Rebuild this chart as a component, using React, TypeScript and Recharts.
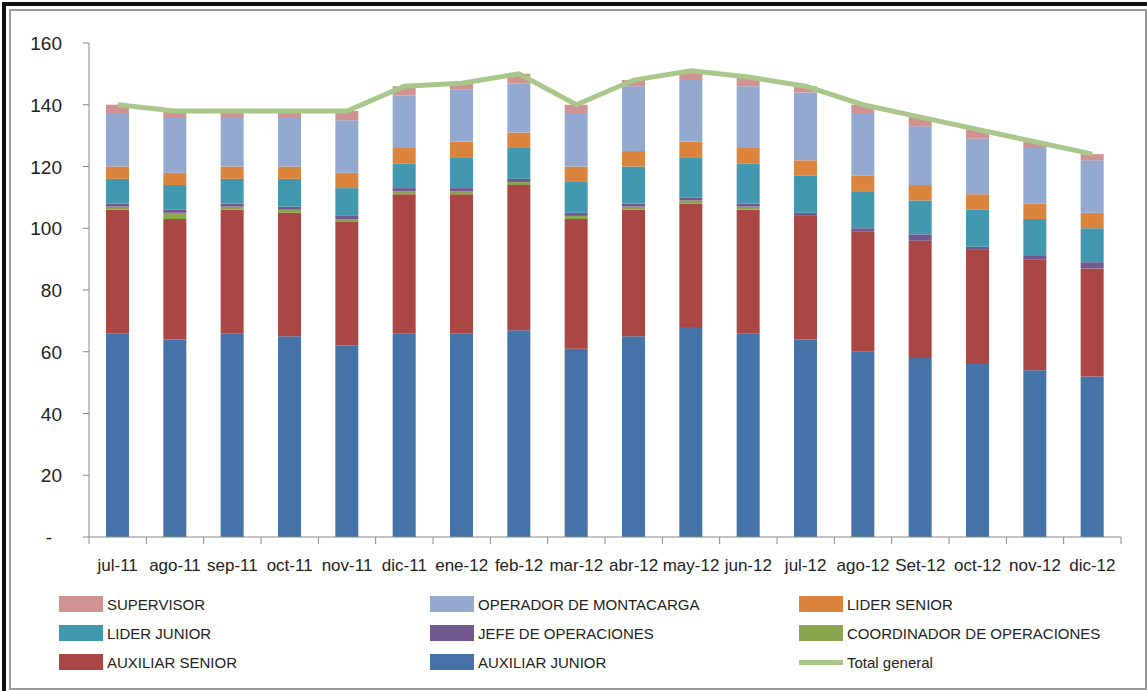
import React from "react";
import { ComposedChart, Bar, Line, XAxis, YAxis } from "recharts";

const months = [
  "jul-11", "ago-11", "sep-11", "oct-11", "nov-11", "dic-11", "ene-12", "feb-12", "mar-12",
  "abr-12", "may-12", "jun-12", "jul-12", "ago-12", "Set-12", "oct-12", "nov-12", "dic-12",
];

const auxiliarJunior = [66, 64, 66, 65, 62, 66, 66, 67, 61, 65, 68, 66, 64, 60, 58, 56, 54, 52];
const auxiliarSenior = [40, 39, 40, 40, 40, 45, 45, 47, 42, 41, 40, 40, 40, 39, 38, 37, 36, 35];
const coordinador = [1, 2, 1, 1, 1, 1, 1, 1, 1, 1, 1, 1, 0, 0, 0, 0, 0, 0];
const jefe = [1, 1, 1, 1, 1, 1, 1, 1, 1, 1, 1, 1, 1, 1, 2, 1, 1, 2];
const liderJunior = [8, 8, 8, 9, 9, 8, 10, 10, 10, 12, 13, 13, 12, 12, 11, 12, 12, 11];
const liderSenior = [4, 4, 4, 4, 5, 5, 5, 5, 5, 5, 5, 5, 5, 5, 5, 5, 5, 5];
const operador = [17, 18, 16, 16, 17, 17, 17, 16, 17, 21, 20, 20, 22, 20, 19, 18, 18, 17];
const supervisor = [3, 2, 2, 2, 3, 3, 2, 3, 3, 2, 3, 3, 2, 3, 3, 3, 2, 2];
const totalGeneral = [140, 138, 138, 138, 138, 146, 147, 150, 140, 148, 151, 149, 146, 140, 136, 132, 128, 124];

const yTicks = [0, 20, 40, 60, 80, 100, 120, 140, 160];

// stacking order, bottom first
const series = [
  { key: "aj", name: "AUXILIAR JUNIOR", color: "#4572A7", values: auxiliarJunior },
  { key: "as", name: "AUXILIAR SENIOR", color: "#AA4643", values: auxiliarSenior },
  { key: "co", name: "COORDINADOR DE OPERACIONES", color: "#89A54E", values: coordinador },
  { key: "je", name: "JEFE DE OPERACIONES", color: "#71588F", values: jefe },
  { key: "lj", name: "LIDER JUNIOR", color: "#4198AF", values: liderJunior },
  { key: "ls", name: "LIDER SENIOR", color: "#DB843D", values: liderSenior },
  { key: "op", name: "OPERADOR DE MONTACARGA", color: "#93A9CF", values: operador },
  { key: "su", name: "SUPERVISOR", color: "#D19392", values: supervisor },
];

const lineColor = "#A9C78B";

const data = months.map((m, i) => {
  const row: Record<string, string | number> = { month: m, total: totalGeneral[i] };
  series.forEach((s) => (row[s.key] = s.values[i]));
  return row;
});

// legend order as laid out in the reference (3 columns)
const legendItems = [
  { name: "SUPERVISOR", color: "#D19392" },
  { name: "OPERADOR DE MONTACARGA", color: "#93A9CF" },
  { name: "LIDER SENIOR", color: "#DB843D" },
  { name: "LIDER JUNIOR", color: "#4198AF" },
  { name: "JEFE DE OPERACIONES", color: "#71588F" },
  { name: "COORDINADOR DE OPERACIONES", color: "#89A54E" },
  { name: "AUXILIAR SENIOR", color: "#AA4643" },
  { name: "AUXILIAR JUNIOR", color: "#4572A7" },
  { name: "Total general", color: lineColor, line: true },
];

const FONT = "'Liberation Sans', Arial, sans-serif";
const HALF_BAND = 1032 / 18 / 2;

function XTick(props: any) {
  const { x, y, payload, index } = props;
  return (
    <g>
      <line x1={x - HALF_BAND} x2={x - HALF_BAND} y1={y} y2={y + 7} stroke="#868686" />
      {index === months.length - 1 && (
        <line x1={x + HALF_BAND} x2={x + HALF_BAND} y1={y} y2={y + 7} stroke="#868686" />
      )}
      <text x={x} y={y + 34} textAnchor="middle" fontSize={17} fill="#222" fontFamily={FONT}>
        {payload.value}
      </text>
    </g>
  );
}

function YTick(props: any) {
  const { x, y, payload } = props;
  const zero = payload.value === 0;
  return (
    <text
      x={zero ? x - 10 : x}
      y={y}
      dy={7}
      textAnchor="end"
      fontSize={19}
      fill="#222"
      fontFamily={FONT}
    >
      {zero ? "-" : payload.value}
    </text>
  );
}

export default function App() {
  return (
    <div
      style={{
        position: "absolute",
        left: 0,
        top: 0,
        width: 1147,
        height: 691,
        overflow: "hidden",
        background: "#fff",
        fontFamily: FONT,
      }}
    >
      <div style={{ position: "absolute", left: 2, top: 2, width: 1160, height: 700, border: "4px solid #111" }} />
      <div
        style={{ position: "absolute", left: 9, top: 9, width: 1134, height: 677, border: "2px solid #9a9a9a" }}
      />
      <div style={{ position: "absolute", left: 0, top: 0 }}>
        <ComposedChart
          width={1147}
          height={580}
          data={data}
          margin={{ top: 43, right: 26, left: 0, bottom: 0 }}
          barSize={23}
        >
          <XAxis
            dataKey="month"
            height={43}
            tickLine={false}
            tickSize={0}
            tickMargin={0}
            interval={0}
            stroke="#868686"
            tick={<XTick />}
          />
          <YAxis
            width={89}
            domain={[0, 160]}
            ticks={yTicks}
            interval={0}
            stroke="#868686"
            tickSize={6}
            tickMargin={21}
            tick={<YTick />}
          />
          {series.map((s) => (
            <Bar key={s.key} dataKey={s.key} name={s.name} stackId="a" fill={s.color} isAnimationActive={false} />
          ))}
          <Line
            type="linear"
            dataKey="total"
            name="Total general"
            stroke={lineColor}
            strokeWidth={5}
            dot={false}
            isAnimationActive={false}
          />
        </ComposedChart>
      </div>
      {legendItems.map((it, i) => {
        const col = i % 3;
        const row = Math.floor(i / 3);
        const left = [59, 430, 799][col];
        const top = 596 + row * 29;
        return (
          <div key={it.name} style={{ position: "absolute", left, top, height: 16, display: "flex", alignItems: "center" }}>
            {it.line ? (
              <div style={{ width: 44, height: 5, background: it.color }} />
            ) : (
              <div style={{ width: 44, height: 16, background: it.color }} />
            )}
            <span style={{ marginLeft: 4, fontSize: 15, color: "#222", whiteSpace: "nowrap" }}>{it.name}</span>
          </div>
        );
      })}
    </div>
  );
}
